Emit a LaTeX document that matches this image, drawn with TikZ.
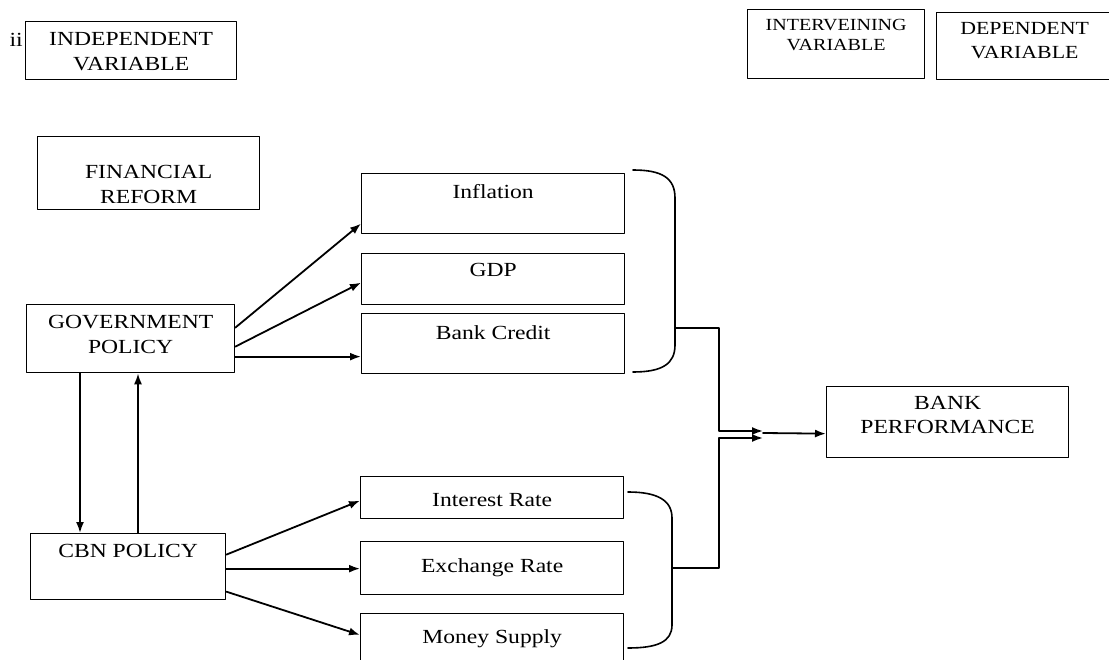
\documentclass[tikz,border=0pt]{standalone}
\usepackage{fontspec}
\setmainfont{Liberation Serif}[FakeStretch=1.18]
\usetikzlibrary{arrows.meta}
\newcommand{\cell}[4]{\parbox[t][#2pt][t]{#1pt}{\centering\vspace*{#3pt}#4}}

\begin{document}
\begin{tikzpicture}[x=1pt,y=-1pt,line cap=round,line join=round,>={Latex[length=11pt,width=8pt]},font=\fontsize{20}{24.5}\selectfont,
  box/.style={draw,line width=1.3pt,inner sep=0pt,anchor=north west},
  arr/.style={->,line width=1.8pt}]
  \clip (0,0) rectangle (1109,660);
  % headings
  \node[anchor=base east,inner sep=0pt] (ii) at (23,47) {ii};
  \node[box] (indep) at (25,21) {\cell{211}{58}{11}{INDEPENDENT\\VARIABLE}};
  \node[box,font=\fontsize{17}{20}\selectfont] (interv) at (747,9) {\cell{177}{69}{10}{INTERVEINING\\VARIABLE}};
  \node[box,font=\fontsize{18.5}{24}\selectfont] (dep) at (936,12) {\cell{176}{67}{10}{DEPENDENT\\VARIABLE}};
  % left column
  \node[box] (fin) at (37,136) {\cell{222}{73}{29}{FINANCIAL\\REFORM}};
  \node[box] (gov) at (26,304) {\cell{208}{68}{11}{GOVERNMENT\\POLICY}};
  \node[box] (cbn) at (30,533) {\cell{195}{66}{10.5}{CBN POLICY}};
  % intervening variables
  \node[box] (infl) at (361,173) {\cell{263}{60}{11}{Inflation}};
  \node[box] (gdp) at (361,253) {\cell{263}{51}{9.5}{GDP}};
  \node[box] (credit) at (361,313) {\cell{263}{60}{11.5}{Bank Credit}};
  \node[box] (irate) at (360,476) {\cell{263}{42}{16.5}{Interest Rate}};
  \node[box] (xrate) at (360,541) {\cell{263}{53}{17}{Exchange Rate}};
  \node[box] (money) at (360,613) {\cell{263}{70}{16}{Money Supply}};
  \node[box] (bank) at (826,386) {\cell{242}{71}{9.5}{BANK\\PERFORMANCE}};
  % arrows
  \draw[arr] ([yshift=11pt]gov.east) -- ([yshift=-20pt]infl.west);
  \draw[arr] ([yshift=-8pt]gov.east) -- ([yshift=-3.5pt]gdp.west);
  \draw[arr] ([yshift=-18pt]gov.east) -- ([yshift=-13pt]credit.west);
  \draw[arr] ([yshift=12pt]cbn.east) -- ([yshift=-3pt]irate.west);
  \draw[arr] ([yshift=-2pt]cbn.east) -- ([yshift=-0.5pt]xrate.west);
  \draw[arr] ([yshift=-25pt]cbn.east) -- ([yshift=-22pt]money.north west);
  \draw[arr] ([xshift=54pt]gov.south west) -- ([xshift=50pt]cbn.north west);
  \draw[arr] ([xshift=108pt]cbn.north west) -- ([xshift=112pt]gov.south west);
  % brackets
  \draw[line width=1.6pt] (633,170) .. controls (662,170) and (675,178) .. (675,198) -- (675,345) .. controls (675,364) and (662,372) .. (633,372);
  \draw[line width=1.6pt] (628,492) .. controls (657,492) and (672,500) .. (672,518) -- (672,625) .. controls (672,642) and (657,648) .. (628,648);
  \coordinate (topjoin) at (675,328);
  \coordinate (botjoin) at (672,568);
  \coordinate (merge) at (763,433);
  \draw[arr] (topjoin) -- ++(44,0) |- ([yshift=2pt]merge);
  \draw[arr] (botjoin) -- ++(47,0) |- ([yshift=-5pt]merge);
  \draw[arr] (merge) -- ([yshift=-11.5pt]bank.west);
\end{tikzpicture}
\end{document}
